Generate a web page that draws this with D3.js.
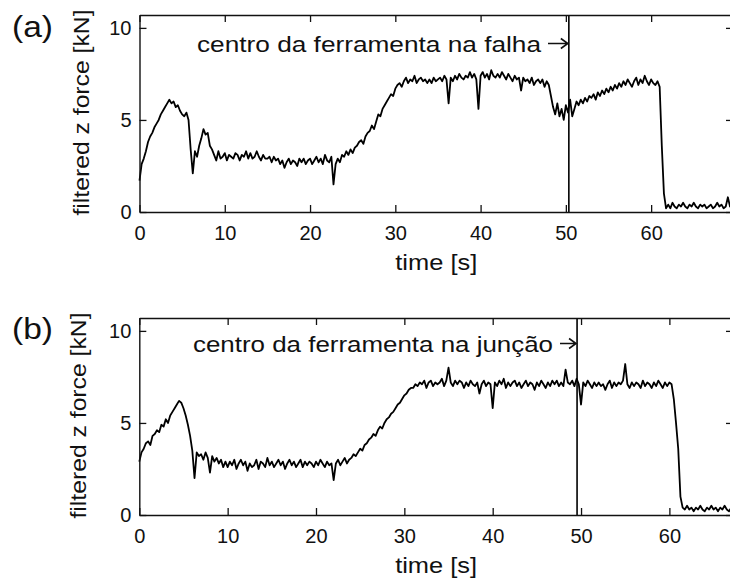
<!DOCTYPE html>
<html>
<head>
<meta charset="utf-8">
<script src="https://cdn.jsdelivr.net/npm/d3@7"></script>
<style>
  html, body { margin: 0; padding: 0; background: #fff; }
  svg { display: block; }
  text { font-family: "Liberation Sans", Arial, Helvetica, sans-serif; fill: #111; }
</style>
</head>
<body>
<svg id="chart" width="730" height="578"></svg>
<script>
// ---------- data ----------
const sampleStep = 0.25; // seconds between samples
const forceA = [
  1.7, 2.6, 2.9, 3.3,  3.8, 4.1, 4.3, 4.6,  4.8, 5.0, 5.3, 5.5,  5.7, 5.9, 6.1, 5.9,
  6.0, 5.7, 5.8, 5.5,  5.3, 5.2, 5.4, 5.0,  3.4, 2.1, 3.3, 3.0,  3.6, 4.0, 4.5, 4.2,
  4.3, 3.6, 3.4, 3.1,  2.8, 3.3, 2.9, 3.0,  3.2, 2.8, 3.1, 3.0,  2.9, 3.2, 3.1, 2.8,
  3.1, 3.0, 3.3, 2.9,  3.2, 2.9, 3.0, 3.3,  3.0, 2.8, 3.1, 2.9,  2.9, 3.0, 2.7, 3.0,
  2.8, 2.9, 2.6, 2.8,  2.4, 2.7, 2.9, 2.6,  2.8, 2.7, 2.5, 2.9,  2.7, 2.9, 2.6, 2.8,
  2.9, 2.6, 2.8, 3.0,  2.7, 2.9, 2.6, 3.1,  2.8, 2.7, 3.0, 1.5,  2.6, 2.9, 2.7, 3.1,
  3.0, 3.3, 3.1, 3.4,  3.2, 3.5, 3.6, 3.8,  3.9, 3.7, 4.1, 4.3,  4.4, 4.7, 4.5, 4.9,
  5.3, 5.2, 5.6, 5.8,  6.0, 6.2, 6.4, 6.3,  6.7, 6.9, 7.0, 6.8,  7.1, 7.3, 7.0, 7.2,
  7.1, 7.4, 7.0, 7.2,  7.3, 7.1, 7.2, 7.0,  7.2, 7.0, 7.3, 7.1,  7.2, 7.3, 7.1, 7.4,
  7.2, 5.9, 7.3, 7.1,  7.4, 7.2, 7.5, 7.3,  7.2, 7.4, 7.3, 7.6,  7.3, 7.5, 7.2, 5.6,
  7.4, 7.6, 7.3, 7.5,  7.2, 7.7, 7.4, 7.3,  7.5, 7.3, 7.6, 7.4,  7.2, 7.5, 7.3, 7.1,
  7.4, 7.2, 7.3, 6.6,  7.3, 7.1, 7.2, 7.0,  7.3, 6.9, 7.1, 7.2,  7.0, 7.2, 6.8, 7.1,
  6.9, 6.3, 5.7, 5.3,  5.9, 5.2, 5.6, 5.0,  5.8, 5.4, 6.1, 5.2,  5.6, 6.0, 5.8, 6.1,
  5.9, 6.2, 6.0, 6.3,  6.2, 6.4, 6.1, 6.5,  6.3, 6.6, 6.4, 6.7,  6.5, 6.8, 6.6, 6.9,
  6.7, 7.0, 6.8, 7.1,  6.9, 7.2, 7.0, 6.8,  7.1, 7.3, 6.9, 7.2,  7.0, 7.4, 7.1, 6.9,
  7.2, 7.0, 6.9, 7.1,  6.8, 3.6, 1.0, 0.2,  0.4, 0.2, 0.5, 0.3,  0.2, 0.4, 0.3, 0.5,
  0.3, 0.2, 0.4, 0.3,  0.5, 0.3, 0.2, 0.4,  0.3, 0.4, 0.2, 0.3,  0.4, 0.2, 0.3, 0.5,
  0.3, 0.4, 0.2, 0.3,  0.8, 0.3, 0.4
];
const forceB = [
  2.9, 3.4, 3.6, 3.9,  4.0, 3.8, 4.3, 4.4,  4.6, 4.5, 4.9, 4.8,  5.2, 5.0, 5.4, 5.6,
  5.8, 6.0, 6.2, 6.1,  5.8, 5.4, 4.9, 4.3,  3.5, 2.0, 3.4, 3.2,  3.3, 3.0, 3.4, 3.1,
  2.3, 3.2, 2.9, 3.1,  2.8, 3.0, 2.6, 2.9,  2.6, 2.9, 2.7, 3.0,  2.5, 2.8, 3.0, 2.7,
  2.9, 2.4, 2.8, 2.6,  2.7, 3.0, 2.5, 2.9,  2.8, 2.6, 3.1, 2.7,  2.9, 2.6, 2.8, 3.0,
  2.7, 2.9, 2.5, 2.8,  3.0, 2.7, 2.9, 2.6,  2.8, 3.0, 2.6, 2.9,  2.7, 2.9, 2.8, 2.6,
  2.9, 2.7, 3.0, 2.8,  2.6, 2.9, 2.7, 2.8,  1.9, 2.8, 3.0, 2.7,  2.9, 3.1, 2.8, 3.0,
  3.1, 3.3, 3.2, 3.4,  3.6, 3.5, 3.8, 3.9,  4.1, 4.2, 4.4, 4.3,  4.6, 4.8, 4.7, 5.0,
  5.2, 5.3, 5.5, 5.6,  5.8, 6.0, 6.1, 6.3,  6.5, 6.6, 6.8, 6.9,  6.9, 7.1, 7.0, 7.2,
  7.1, 7.3, 6.9, 7.2,  7.3, 7.0, 7.2, 7.1,  7.2, 7.4, 7.0, 7.3,  8.0, 7.2, 7.0, 7.3,
  7.1, 7.3, 7.2, 6.9,  7.2, 7.0, 7.3, 7.1,  7.0, 7.2, 6.6, 7.1,  7.3, 7.0, 7.2, 7.1,
  5.8, 7.2, 7.0, 7.3,  7.1, 7.4, 6.9, 7.2,  7.0, 7.2, 7.3, 7.0,  7.2, 6.9, 7.1, 7.3,
  7.0, 7.2, 7.1, 6.8,  7.2, 7.0, 7.3, 7.1,  6.9, 7.2, 7.0, 7.3,  7.1, 7.3, 7.0, 7.2,
  7.0, 7.9, 7.2, 7.1,  7.3, 7.0, 7.4, 7.1,  6.0, 7.2, 7.0, 7.3,  7.1, 6.9, 7.2, 7.0,
  7.2, 7.0, 7.1, 6.8,  7.1, 7.3, 6.9, 7.2,  7.0, 7.2, 7.1, 7.3,  8.2, 7.1, 6.9, 7.2,
  7.0, 7.2, 7.1, 6.9,  7.3, 7.0, 7.2, 7.1,  6.9, 7.2, 7.0, 7.3,  7.1, 6.9, 7.2, 7.0,
  7.2, 7.1, 6.3, 5.0,  3.6, 1.0, 0.4, 0.3,  0.5, 0.3, 0.4, 0.2,  0.4, 0.3, 0.5, 0.3,
  0.2, 0.4, 0.3, 0.5,  0.3, 0.4, 0.2, 0.4,  0.3, 0.5, 0.3, 0.2,  0.4, 0.3
];
const xTicks = [0, 10, 20, 30, 40, 50, 60];
const yTicks = [0, 5, 10];
const xMaxA = 69.6, xMaxB = 67.2;
const yMax = 10.7;
const markerA = 50.35, markerB = 49.55;
const panelLetters = ["(a)", "(b)"];
const noteTexts = ["centro da ferramenta na falha", "centro da ferramenta na jun\u00e7\u00e3o"];
const xLabel = "time [s]";
const yLabel = "filtered z force [kN]";

// ---------- drawing ----------
const svg = d3.select("#chart");

const panels = [
  { values: forceA, xMax: xMaxA, marker: markerA, letter: panelLetters[0], note: noteTexts[0],
    left: 139.5, right: 733, top: 15, bottom: 212, noteX: 197, noteBase: 52, noteEnd: 541,
    ylabX: 89, letterBase: 37 },
  { values: forceB, xMax: xMaxB, marker: markerB, letter: panelLetters[1], note: noteTexts[1],
    left: 139.3, right: 733, top: 318, bottom: 515, noteX: 193, noteBase: 352, noteEnd: 553,
    ylabX: 86, letterBase: 339 }
];

panels.forEach(p => {
  const x = d3.scaleLinear().domain([0, p.xMax]).range([p.left, p.right]);
  const y = d3.scaleLinear().domain([0, yMax]).range([p.bottom, p.top]);
  const g = svg.append("g");

  // data line
  const line = d3.line()
    .x((d, i) => x(i * sampleStep))
    .y(d => y(d));
  g.append("path")
    .datum(p.values)
    .attr("fill", "none")
    .attr("stroke", "#000")
    .attr("stroke-width", 1.8)
    .attr("stroke-linejoin", "round")
    .attr("d", line);

  // marker vertical line
  const mx = x(p.marker);
  g.append("line")
    .attr("x1", mx).attr("x2", mx)
    .attr("y1", y(yMax)).attr("y2", y(0))
    .attr("stroke", "#000").attr("stroke-width", 1.6);

  // axes (MATLAB-style box with inward ticks)
  const styleAxis = sel => {
    sel.selectAll(".domain").attr("stroke", "#111").attr("stroke-width", 1.4);
    sel.selectAll(".tick line").attr("stroke", "#111").attr("stroke-width", 1.3);
    sel.selectAll(".tick text").style("font-size", "20px").attr("fill", "#111")
      .style("font-family", '"Liberation Sans", Arial, sans-serif');
  };
  g.append("g").attr("transform", `translate(0,${p.bottom})`)
    .call(d3.axisBottom(x).tickValues(xTicks).tickSize(-7).tickSizeOuter(0).tickPadding(14))
    .call(styleAxis);
  g.append("g").attr("transform", `translate(0,${p.top})`)
    .call(d3.axisTop(x).tickValues(xTicks).tickSize(-7).tickSizeOuter(0).tickFormat(""))
    .call(styleAxis);
  g.append("g").attr("transform", `translate(${p.left},0)`)
    .call(d3.axisLeft(y).tickValues(yTicks).tickSize(-7).tickSizeOuter(0).tickPadding(8))
    .call(styleAxis);
  g.append("g").attr("transform", `translate(${p.right},0)`)
    .call(d3.axisRight(y).tickValues(yTicks).tickSize(-7).tickSizeOuter(0).tickFormat(""))
    .call(styleAxis);

  // annotation text + arrow pointing at the marker line
  g.append("text")
    .attr("x", p.noteX).attr("y", p.noteBase)
    .attr("textLength", p.noteEnd - p.noteX)
    .attr("lengthAdjust", "spacingAndGlyphs")
    .style("font-size", "22px")
    .text(p.note);
  const ay = p.noteBase - 8.5;
  const ax0 = p.noteEnd + 7, ax1 = mx - 1;
  g.append("path")
    .attr("d", `M${ax0},${ay}H${ax1}M${ax1 - 7},${ay - 5}L${ax1},${ay}L${ax1 - 7},${ay + 5}`)
    .attr("fill", "none").attr("stroke", "#111").attr("stroke-width", 1.6);

  // x label
  g.append("text")
    .attr("x", (p.left + p.right) / 2 - 41).attr("y", p.bottom + 58)
    .attr("textLength", 82).attr("lengthAdjust", "spacingAndGlyphs")
    .style("font-size", "22px")
    .text(xLabel);

  // y label
  const yc = (p.top + p.bottom) / 2 - 1;
  g.append("text")
    .attr("transform", `translate(${p.ylabX},${yc + 103}) rotate(-90)`)
    .attr("textLength", 206).attr("lengthAdjust", "spacingAndGlyphs")
    .style("font-size", "22px")
    .text(yLabel);

  // panel letter
  g.append("text")
    .attr("x", 12).attr("y", p.letterBase)
    .attr("textLength", 41).attr("lengthAdjust", "spacingAndGlyphs")
    .style("font-size", "29px")
    .text(p.letter);
});
</script>
</body>
</html>
